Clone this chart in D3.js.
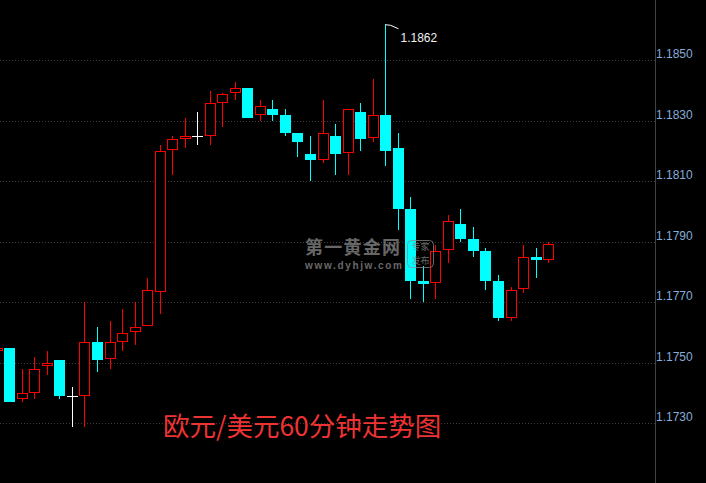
<!DOCTYPE html>
<html><head><meta charset="utf-8">
<script src="https://cdn.jsdelivr.net/npm/d3@7"></script>
<style>html,body{margin:0;padding:0;background:#000;overflow:hidden}</style>
</head><body>
<svg id="c" width="706" height="483"></svg>
<script>
// EUR/USD 60-minute candles (left-most one is partially cut off)
const opens  = [1.17540,1.17549,1.17381,1.17401,1.17490,1.17509,1.17389,1.17391,1.17568,1.17512,1.17570,1.17601,1.17621,1.17733,1.18202,1.18240,1.18248,1.18250,1.18359,1.18390,1.18408,1.18319,1.18338,1.18318,1.18259,1.18190,1.18171,1.18249,1.18192,1.18328,1.18242,1.18318,1.18209,1.18008,1.17770,1.17763,1.17872,1.17958,1.17909,1.17869,1.17770,1.17649,1.17743,1.17849,1.17841];
const highs  = [1.17560,1.17549,1.17480,1.17519,1.17539,1.17509,1.17420,1.17701,1.17618,1.17638,1.17678,1.17700,1.17781,1.18219,1.18249,1.18307,1.18327,1.18398,1.18390,1.18427,1.18408,1.18368,1.18368,1.18338,1.18259,1.18249,1.18367,1.18289,1.18337,1.18358,1.18437,1.18618,1.18259,1.18048,1.17820,1.17889,1.17988,1.18008,1.17948,1.17879,1.17790,1.17749,1.17889,1.17879,1.17899];
const lows   = [1.17530,1.17371,1.17372,1.17381,1.17460,1.17381,1.17289,1.17289,1.17471,1.17481,1.17540,1.17560,1.17621,1.17660,1.18120,1.18210,1.18220,1.18219,1.18280,1.18368,1.18308,1.18299,1.18299,1.18249,1.18180,1.18100,1.18161,1.18121,1.18121,1.18200,1.18230,1.18151,1.17939,1.17711,1.17701,1.17711,1.17831,1.17900,1.17850,1.17740,1.17639,1.17639,1.17732,1.17781,1.17831];
const closes = [1.17550,1.17371,1.17399,1.17479,1.17498,1.17390,1.17389,1.17568,1.17510,1.17568,1.17597,1.17617,1.17739,1.18199,1.18238,1.18248,1.18248,1.18357,1.18387,1.18407,1.18308,1.18348,1.18318,1.18260,1.18230,1.18170,1.18258,1.18191,1.18337,1.18240,1.18318,1.18200,1.18008,1.17771,1.17761,1.17868,1.17968,1.17909,1.17869,1.17771,1.17649,1.17739,1.17848,1.17841,1.17892];
const tickValues = [1.1730,1.1750,1.1770,1.1790,1.1810,1.1830,1.1850];
const titleText = "欧元/美元60分钟走势图";
const wmTitle = "第一黄金网";
const wmUrl = "www.dyhjw.com";
const wmBadge = ["专家","发布"];

const W = 706, H = 483, axisX = 655;
const n = opens.length;
const svg = d3.select("#c");
svg.append("rect").attr("width", W).attr("height", H).attr("fill", "#000");

const x = d3.scaleLinear().domain([0, n - 1]).range([-2.73, 548.6]);
const y = d3.scaleLinear().domain([1.1730, 1.1850]).range([423.3, 60]);

// grid
svg.append("g").selectAll("line").data(tickValues).join("line")
  .attr("x1", 0).attr("x2", axisX)
  .attr("y1", d => Math.round(y(d)) + 0.5).attr("y2", d => Math.round(y(d)) + 0.5)
  .attr("stroke", "#3c3c3c").attr("stroke-dasharray", "1,2");

// axis line
svg.append("line").attr("x1", axisX + 0.5).attr("x2", axisX + 0.5).attr("y1", 0).attr("y2", H)
  .attr("stroke", "#404040");

// axis labels
const axis = d3.axisRight(y).tickValues(tickValues).tickFormat(d3.format(".4f")).tickSize(0).tickPadding(1);
const ag = svg.append("g").attr("transform", `translate(${axisX},0)`).call(axis);
ag.select(".domain").remove();
ag.selectAll("text").attr("dy", null).attr("y", -2.5)
  .attr("fill", "#86acd8").attr("font-family", "Liberation Sans, Arial, sans-serif").attr("font-size", 12);

// candles
const data = d3.range(n).map(i => ({i, o: opens[i], h: highs[i], l: lows[i], c: closes[i]}));
const cg = svg.append("g").attr("shape-rendering", "crispEdges");
data.forEach(d => {
  const left = Math.round(x(d.i) - 5.5);
  const cx = left + 5.5;
  const up = d.c > d.o, doji = d.c === d.o;
  const col = doji ? "#ffffff" : (up ? "#ff0000" : "#00ffff");
  cg.append("line").attr("x1", cx).attr("x2", cx)
    .attr("y1", Math.round(y(d.h))).attr("y2", Math.round(y(d.l)))
    .attr("stroke", col).attr("stroke-width", 1);
  const top = Math.round(y(Math.max(d.o, d.c)));
  const bot = Math.round(y(Math.min(d.o, d.c)));
  if (doji) {
    cg.append("line").attr("x1", left).attr("x2", left + 11)
      .attr("y1", top + 0.5).attr("y2", top + 0.5).attr("stroke", col);
  } else if (up) {
    cg.append("rect").attr("x", left + 0.5).attr("y", top + 0.5)
      .attr("width", 10).attr("height", Math.max(1, bot - top - 1))
      .attr("fill", "#000").attr("stroke", col).attr("stroke-width", 1);
  } else {
    cg.append("rect").attr("x", left).attr("y", top)
      .attr("width", 11).attr("height", Math.max(1, bot - top))
      .attr("fill", col);
  }
});

// max annotation
const maxI = d3.maxIndex(highs);
const mx = Math.round(x(maxI) - 5.5) + 5.5, my = y(highs[maxI]);
svg.append("path").attr("d", `M${mx},${my + 0.5}L${mx + 5},${my + 1}L${mx + 13},${my + 4.5}`)
  .attr("fill", "none").attr("stroke", "#fff").attr("stroke-width", 1);
svg.append("text").attr("x", mx + 15).attr("y", my + 17.5)
  .attr("fill", "#f0f0f0").attr("font-family", "Liberation Sans, Arial, sans-serif").attr("font-size", 12)
  .text(d3.format(".4f")(highs[maxI]));

// watermark
const wm = svg.append("g").attr("opacity", 0.75);
wm.append("text").attr("x", 305).attr("y", 254).attr("font-family", "Noto Sans CJK SC")
  .attr("font-weight", "bold").attr("font-size", 18).attr("fill", "#8a8a8a")
  .attr("textLength", 95).text(wmTitle);
wm.append("text").attr("x", 305).attr("y", 269).attr("font-family", "Liberation Sans, Arial, sans-serif")
  .attr("font-weight", "bold").attr("font-size", 10).attr("fill", "#8a8a8a")
  .attr("textLength", 97).text(wmUrl);
wm.append("rect").attr("x", 407.5).attr("y", 240.5).attr("width", 26).attr("height", 27).attr("rx", 4)
  .attr("fill", "none").attr("stroke", "#8a8a8a");
wmBadge.forEach((t, k) => wm.append("text").attr("x", 420.5).attr("y", 250 + k * 14)
  .attr("text-anchor", "middle").attr("font-family", "Noto Sans CJK SC").attr("font-size", 9)
  .attr("fill", "#8a8a8a").text(t));

// title
svg.append("text").attr("x", 163).attr("y", 436).attr("font-family", "Noto Sans CJK SC")
  .attr("font-size", 26.5).attr("fill", "#ee3333").text(titleText);
</script>
</body></html>
